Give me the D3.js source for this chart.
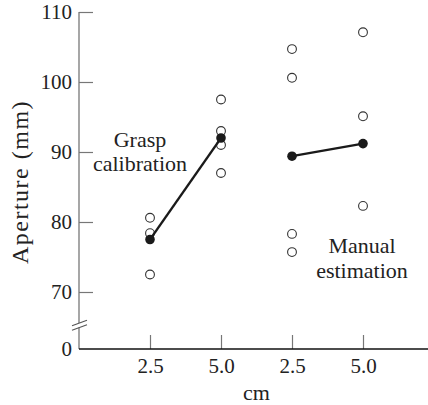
<!DOCTYPE html>
<html>
<head>
<meta charset="utf-8">
<script src="https://cdn.jsdelivr.net/npm/d3@7"></script>
<style>
  html, body { margin: 0; padding: 0; background: #fff; }
  svg { display: block; }
</style>
</head>
<body>
<svg id="chart" width="428" height="405"></svg>
<script>
// data
const conditions = ["grasp-2.5", "grasp-5.0", "manual-2.5", "manual-5.0"];
const xTickLabels = ["2.5", "5.0", "2.5", "5.0"];
const yTicks = [70, 80, 90, 100, 110];
const trials = [
    [80.6, 78.4, 72.5],
    [97.5, 93.0, 91.0, 87.0],
    [104.7, 100.6, 78.3, 75.7],
    [107.1, 95.1, 82.3]
];
const means = [77.5, 92.0, 89.4, 91.2];
const pairs = [[0, 1], [2, 3]];

const width = 428, height = 405;
const axisX = 79, zeroY = 349, breakY = 325;
const font = "'Liberation Serif', 'Times New Roman', serif";
const ink = "#222";

const svg = d3.select("#chart")
    .attr("font-family", font);

const x = d3.scalePoint().domain(conditions).range([150, 363]);
const y = d3.scaleLinear().domain([70, 110]).range([292, 12]);

// Y axis (ticks inward, labels outside)
const yAxis = svg.append("g")
    .attr("transform", `translate(${axisX},0)`)
    .call(d3.axisLeft(y).tickValues(yTicks).tickSize(-14).tickPadding(7).tickSizeOuter(0))
    .attr("font-family", font)
    .attr("font-size", 21);
yAxis.select(".domain").remove();
yAxis.selectAll(".tick line").attr("stroke", "#777").attr("stroke-width", 1.2);
yAxis.selectAll(".tick text").attr("fill", ink);

// zero label below the break
svg.append("text")
    .attr("x", axisX - 7)
    .attr("y", zeroY)
    .attr("dy", "0.32em")
    .attr("text-anchor", "end")
    .attr("font-size", 21)
    .attr("fill", ink)
    .text("0");

// y axis line with a break
svg.append("line")
    .attr("x1", axisX).attr("x2", axisX)
    .attr("y1", y(110)).attr("y2", breakY - 2)
    .attr("stroke", "#777").attr("stroke-width", 1.3);
svg.append("line")
    .attr("x1", axisX).attr("x2", axisX)
    .attr("y1", breakY + 2.5).attr("y2", zeroY)
    .attr("stroke", "#777").attr("stroke-width", 1.3);
[-2.2, 2.2].forEach(off => {
    svg.append("line")
        .attr("x1", axisX - 7).attr("y1", breakY + off + 3)
        .attr("x2", axisX + 8).attr("y2", breakY + off - 2.5)
        .attr("stroke", "#555").attr("stroke-width", 1.1);
});

// X axis
const xAxis = svg.append("g")
    .attr("transform", `translate(0,${zeroY})`)
    .call(d3.axisBottom(x).tickSize(-14).tickPadding(9).tickSizeOuter(0)
        .tickFormat((d, i) => xTickLabels[i]))
    .attr("font-family", font)
    .attr("font-size", 21);
xAxis.select(".domain").remove();
xAxis.selectAll(".tick line").attr("stroke", "#777").attr("stroke-width", 1.2);
xAxis.selectAll(".tick text").attr("fill", ink);

svg.append("line")
    .attr("x1", axisX).attr("x2", width)
    .attr("y1", zeroY).attr("y2", zeroY)
    .attr("stroke", "#111").attr("stroke-width", 1.4);

// axis titles
svg.append("text")
    .attr("x", (x("grasp-2.5") + x("manual-5.0")) / 2)
    .attr("y", 400)
    .attr("text-anchor", "middle")
    .attr("font-size", 22)
    .attr("fill", ink)
    .text("cm");

svg.append("text")
    .attr("transform", `translate(28, 182) rotate(-90)`)
    .attr("text-anchor", "middle")
    .attr("font-size", 24)
    .attr("letter-spacing", 1.5)
    .attr("fill", ink)
    .text("Aperture (mm)");

// individual subjects (open circles)
const pts = [];
trials.forEach((vals, i) => vals.forEach(v => pts.push([conditions[i], v])));
svg.append("g")
    .selectAll("circle")
    .data(pts)
    .enter()
    .append("circle")
    .attr("cx", d => x(d[0]))
    .attr("cy", d => y(d[1]))
    .attr("r", 4.4)
    .attr("fill", "#fff")
    .attr("stroke", "#333")
    .attr("stroke-width", 1.1);

// mean lines
const line = d3.line()
    .x(d => x(d[0]))
    .y(d => y(d[1]));
pairs.forEach(p => {
    svg.append("path")
        .datum(p.map(i => [conditions[i], means[i]]))
        .attr("d", line)
        .attr("fill", "none")
        .attr("stroke", "#1a1a1a")
        .attr("stroke-width", 2.2);
});

svg.append("g")
    .selectAll("circle")
    .data(means)
    .enter()
    .append("circle")
    .attr("cx", (d, i) => x(conditions[i]))
    .attr("cy", d => y(d))
    .attr("r", 4.8)
    .attr("fill", "#1a1a1a");

// condition labels
const notes = [
    { lines: ["Grasp", "calibration"], cx: 140, y0: 147, step: 24 },
    { lines: ["Manual", "estimation"], cx: 362, y0: 253, step: 25 }
];
notes.forEach(n => {
    svg.append("g")
        .selectAll("text")
        .data(n.lines)
        .enter()
        .append("text")
        .attr("x", n.cx)
        .attr("y", (d, i) => n.y0 + i * n.step)
        .attr("text-anchor", "middle")
        .attr("font-size", 22)
        .attr("fill", ink)
        .text(d => d);
});
</script>
</body>
</html>
